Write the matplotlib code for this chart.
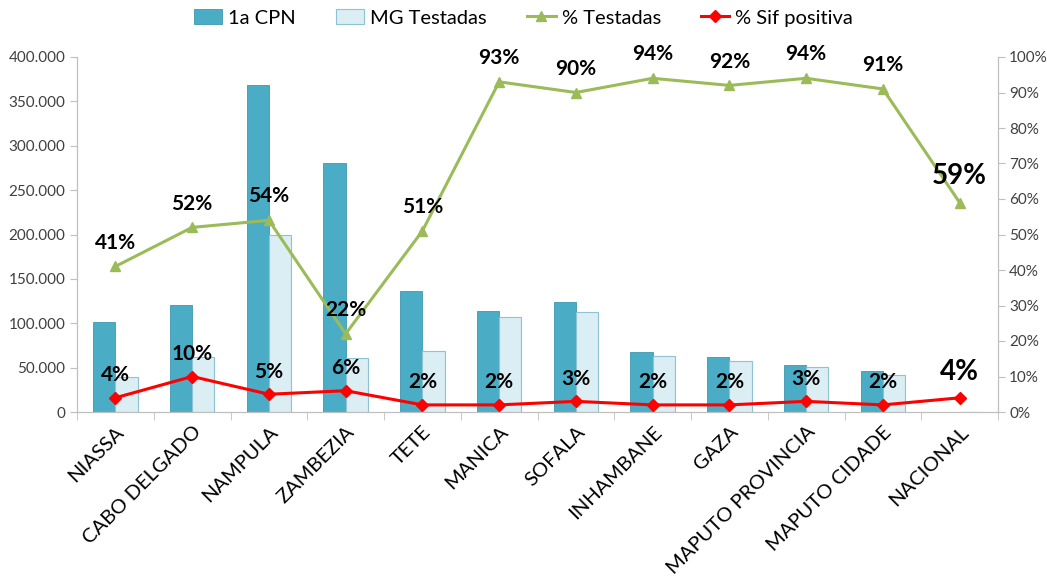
import matplotlib
matplotlib.use("Agg")
import matplotlib.pyplot as plt
from matplotlib.ticker import FuncFormatter, FixedLocator
import numpy as np

categories = ["NIASSA", "CABO DELGADO", "NAMPULA", "ZAMBEZIA", "TETE", "MANICA", "SOFALA",
              "INHAMBANE", "GAZA", "MAPUTO PROVINCIA", "MAPUTO CIDADE", "NACIONAL"]
cpn1 = [101000, 120500, 368000, 280000, 136500, 114000, 124000, 67600, 62300, 53300, 46200, 0]
mg_testadas = [40000, 62000, 199500, 61000, 69000, 106500, 112500, 63500, 57800, 50300, 41300, 0]
pct_testadas = [41, 52, 54, 22, 51, 93, 90, 94, 92, 94, 91, 59]
pct_sif = [4, 10, 5, 6, 2, 2, 3, 2, 2, 3, 2, 4]

plt.rcParams['font.family'] = ['Lato', 'DejaVu Sans']

fig = plt.figure(figsize=(10.47, 5.86), dpi=100)
ax = fig.add_axes([77/1047, 1-412/586, (998-77)/1047, (412-57)/586])
ax2 = ax.twinx()

x = np.arange(len(categories))
w = 0.29
ax.bar(x - w/2, cpn1, w, color="#4BACC6", edgecolor="#3E97AF", linewidth=0.6, label="1a CPN", zorder=2)
ax.bar(x + w/2, mg_testadas, w, color="#DAEEF3", edgecolor="#8DC3D3", linewidth=0.8, label="MG Testadas", zorder=2)

ax.set_ylim(0, 400000)
ax.set_xlim(-0.5, len(categories) - 0.5)
ax.set_yticks(np.arange(0, 400001, 50000))
ax.yaxis.set_major_formatter(FuncFormatter(lambda v, p: "0" if v == 0 else f"{int(v):,}".replace(",", ".")))
ax.set_xticks(x)
ax.set_xticklabels(categories, rotation=45, ha="right", rotation_mode="anchor", fontsize=14.5)
ax.tick_params(axis="x", length=0, pad=8)
ax.xaxis.set_minor_locator(FixedLocator(np.arange(-0.5, len(categories), 1.0)))
ax.tick_params(axis="x", which="minor", length=6, color="#BFBFBF")
ax.tick_params(axis="y", labelsize=11, color="#BFBFBF", length=5, labelcolor="#404040")

for a in (ax, ax2):
    a.spines["top"].set_visible(False)
    a.spines["left"].set_color("#BFBFBF")
    a.spines["right"].set_color("#BFBFBF")
    a.spines["bottom"].set_color("#BFBFBF")

ax2.set_ylim(0, 100)
ax2.set_yticks(np.arange(0, 101, 10))
ax2.yaxis.set_major_formatter(FuncFormatter(lambda v, p: f"{int(v)}%"))
ax2.tick_params(axis="y", labelsize=11, color="#BFBFBF", length=5, labelcolor="#404040", pad=3)

ax2.plot(x, pct_testadas, color="#9BBB59", linewidth=2.2, marker="^", markersize=7, label="% Testadas", zorder=3)
ax2.plot(x, pct_sif, color="#FF0000", linewidth=2.2, marker="D", markersize=6, label="% Sif positiva", zorder=3)

for i, v in enumerate(pct_testadas):
    fs = 20 if i == len(categories) - 1 else 15
    ax2.annotate(f"{v}%", (x[i], v), xytext=(0, 10), textcoords="offset points",
                 ha="center", va="bottom", fontsize=fs, fontweight="bold", color="black")
for i, v in enumerate(pct_sif):
    fs = 20 if i == len(categories) - 1 else 15
    ax2.annotate(f"{v}%", (x[i], v), xytext=(0, 9), textcoords="offset points",
                 ha="center", va="bottom", fontsize=fs, fontweight="bold", color="black")

h1, l1 = ax.get_legend_handles_labels()
h2, l2 = ax2.get_legend_handles_labels()
fig.legend(h1 + h2, l1 + l2, loc="center", bbox_to_anchor=(0.5, 1 - 18/586), ncol=4, frameon=False,
           fontsize=14.5, handlelength=1.4, handletextpad=0.3, columnspacing=2.0)

fig.savefig("out.png", dpi=100)
